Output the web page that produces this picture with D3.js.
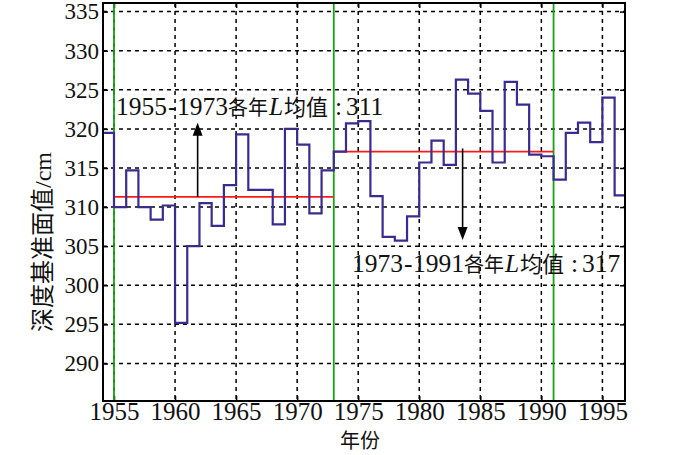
<!DOCTYPE html>
<html><head><meta charset="utf-8">
<script src="https://cdn.jsdelivr.net/npm/d3@7/dist/d3.min.js"></script>
<style>body{margin:0;background:#fff;} svg{display:block;}</style>
</head><body>
<svg id="c" width="700" height="455"></svg>
<script>
const years = [1954,1955,1956,1957,1958,1959,1960,1961,1962,1963,1964,1965,1966,1967,1968,1969,1970,1971,1972,1973,1974,1975,1976,1977,1978,1979,1980,1981,1982,1983,1984,1985,1986,1987,1988,1989,1990,1991,1992,1993,1994,1995,1996];
const depth = [319.5,310.0,314.7,310.0,308.4,310.2,295.2,305.0,310.5,307.6,312.8,319.3,312.2,312.2,307.8,320.0,318.0,309.2,314.7,317.1,320.7,321.0,311.4,306.2,305.7,308.8,315.7,318.5,315.4,326.3,324.5,322.3,315.7,326.0,323.1,316.7,316.5,313.5,319.5,320.8,318.3,324.0,311.5];
const xTicks = [1955,1960,1965,1970,1975,1980,1985,1990,1995];
const yTicks = [290,295,300,305,310,315,320,325,330,335];
const breakYears = [1955,1973,1991];
const means = [{from:1955,to:1973,value:311.3,label:"311",start:"1955",end:"1973"},{from:1973,to:1991,value:317.1,label:"317",start:"1973",end:"1991"}];

const L=103,R=625,T=3,B=401;
const svg=d3.select("#c");
const x=d3.scaleLinear().domain([1954.1,1996.85]).range([L,R]);
const y=d3.scaleLinear().domain([285.2,336.1]).range([B,T]);

svg.append("defs").append("clipPath").attr("id","clip").append("rect").attr("x",L).attr("y",T).attr("width",R-L).attr("height",B-T);

const g=svg.append("g");
g.selectAll(".gx").data(xTicks).enter().append("line")
 .attr("x1",d=>x(d)).attr("x2",d=>x(d)).attr("y1",T).attr("y2",B)
 .attr("stroke","#000").attr("stroke-width",1.5).attr("stroke-dasharray","4,4");
g.selectAll(".gy").data(yTicks).enter().append("line")
 .attr("x1",L).attr("x2",R).attr("y1",d=>y(d)).attr("y2",d=>y(d))
 .attr("stroke","#000").attr("stroke-width",1.5).attr("stroke-dasharray","4,4");

const fontNum='"Liberation Serif","DejaVu Serif",serif';
const fontCJK='"Noto Sans CJK SC","Noto Sans CJK JP",sans-serif';
const ax=svg.append("g").attr("transform",`translate(0,${B})`).call(d3.axisBottom(x).tickValues(xTicks).tickSize(-5).tickPadding(1).tickFormat(d3.format("d")));
const ay=svg.append("g").attr("transform",`translate(${L},0)`).call(d3.axisLeft(y).tickValues(yTicks).tickSize(-5).tickPadding(4).tickFormat(d3.format("d")));
const at=svg.append("g").attr("transform",`translate(0,${T})`).call(d3.axisTop(x).tickValues(xTicks).tickSize(-5).tickFormat(""));
const ar=svg.append("g").attr("transform",`translate(${R},0)`).call(d3.axisRight(y).tickValues(yTicks).tickSize(-5).tickFormat(""));
[ax,ay,at,ar].forEach(a=>{a.attr("font-family",null).attr("font-size",null);
 a.select(".domain").remove();a.selectAll(".tick line").attr("stroke","#000").attr("stroke-width",1.5);
 a.selectAll("text").style("font-family",fontNum).style("font-size","25px").attr("fill","#111");});
ay.selectAll("text").style("font-size","23px");

svg.selectAll(".br").data(breakYears).enter().append("line")
 .attr("x1",d=>x(d)).attr("x2",d=>x(d)).attr("y1",T).attr("y2",B)
 .attr("stroke","#16a316").attr("stroke-width",1.8);

svg.selectAll(".mn").data(means).enter().append("line")
 .attr("x1",d=>x(d.from)).attr("x2",d=>x(d.to)).attr("y1",d=>y(d.value)).attr("y2",d=>y(d.value))
 .attr("stroke","#ff1a1a").attr("stroke-width",1.8);

const pts=years.map((yr,i)=>[yr,depth[i]]);
pts.push([years[years.length-1]+1,depth[depth.length-1]]);
svg.append("path").datum(pts).attr("clip-path","url(#clip)")
 .attr("d",d3.line().x(d=>x(d[0])).y(d=>y(d[1])).curve(d3.curveStepAfter))
 .attr("fill","none").attr("stroke","#3b2b8e").attr("stroke-width",2.2);

svg.append("rect").attr("x",L).attr("y",T).attr("width",R-L).attr("height",B-T)
 .attr("fill","none").attr("stroke","#000").attr("stroke-width",2);

function arrow(xv,y0,y1){
  const dir=Math.sign(y1-y0);
  svg.append("line").attr("x1",xv).attr("x2",xv).attr("y1",y0).attr("y2",y1-dir*10)
   .attr("stroke","#000").attr("stroke-width",1.6);
  svg.append("path").attr("d",`M${xv},${y1} L${xv-5},${y1-dir*13} L${xv+5},${y1-dir*13} Z`).attr("fill","#000");
}
arrow(x(1961.85),y(311.3),y(320.8));
arrow(x(1983.55),y(317.5),y(305.8));

function annot(tx,ty,d){
  const t=svg.append("text").attr("y",ty).style("font-family",fontNum).style("font-size","25.5px").attr("fill","#111");
  t.append("tspan").attr("x",tx).text(d.start);
  t.append("tspan").attr("x",tx+52).text("-");
  t.append("tspan").attr("x",tx+61).text(d.end);
  t.append("tspan").attr("x",tx+112).style("font-family",fontCJK).style("font-size","20px").text("各年");
  t.append("tspan").attr("x",tx+153).style("font-style","italic").text("L");
  t.append("tspan").attr("x",tx+168).style("font-family",fontCJK).style("font-size","22px").text("均值");
  t.append("tspan").attr("x",tx+219).text(":");
  t.append("tspan").attr("x",tx+230).text(d.label);
}
annot(116,115,means[0]);
annot(352,272,means[1]);

svg.append("text").attr("transform","translate(51,242) rotate(-90)").attr("text-anchor","middle")
 .style("font-family",fontCJK).style("font-size","24px").attr("fill","#111")
 .append("tspan").text("深度基准面值").append("tspan").style("font-family",fontNum).text("/cm");
svg.append("text").attr("x",360).attr("y",448).attr("text-anchor","middle")
 .style("font-family",fontCJK).style("font-size","20px").attr("fill","#111").text("年份");
</script>
</body></html>
